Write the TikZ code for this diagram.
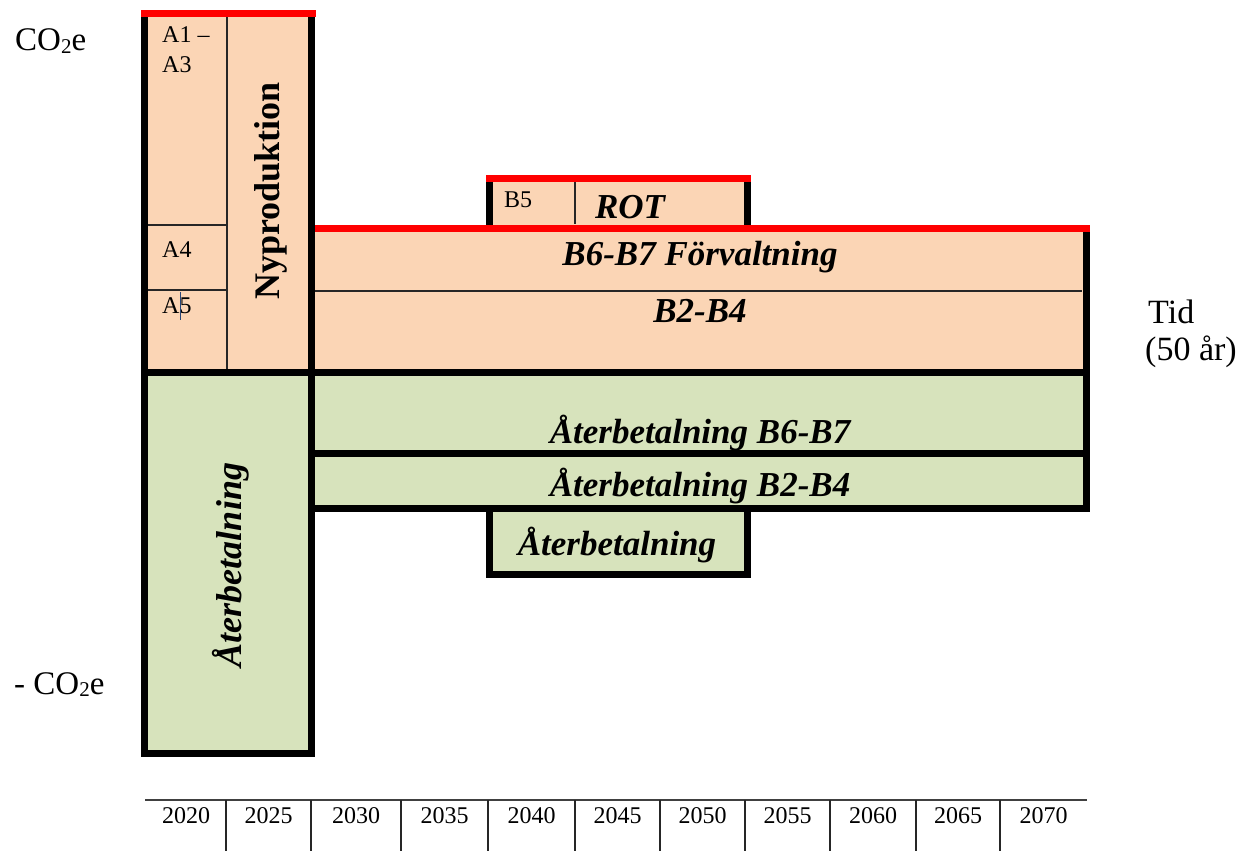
\documentclass[tikz,border=0pt]{standalone}
\usepackage{fontspec}
\setmainfont{Liberation Serif}
\definecolor{peach}{RGB}{251,213,181}
\definecolor{sage}{RGB}{215,227,188}
\definecolor{redline}{RGB}{255,0,0}
\definecolor{cursorblue}{RGB}{40,70,120}
\begin{document}
\begin{tikzpicture}[x=1pt,y=-1pt,
  heavy/.style={line width=7pt,black,line cap=butt},
  redtop/.style={line width=7pt,redline,line cap=butt},
  thinl/.style={line width=1.2pt,black!85},
  smalllbl/.style={font=\fontsize{24}{24}\selectfont,inner sep=0pt,anchor=base west},
  biglbl/.style={font=\fontsize{35}{35}\selectfont\bfseries\itshape,inner sep=0pt,anchor=base},
  axislbl/.style={font=\fontsize{34}{34}\selectfont,inner sep=0pt,anchor=base west},
  co2lbl/.style={font=\fontsize{33}{33}\selectfont,inner sep=0pt,anchor=base west},
  yearlbl/.style={font=\fontsize{24}{24}\selectfont,inner sep=0pt,anchor=base}]
\useasboundingbox (0,0) rectangle (1241,851);
% fills
\fill[peach] (144.5,13.5) rectangle (311.5,372.5);
\fill[sage] (144.5,372.5) rectangle (311.5,753.5);
\fill[peach] (311.5,228) rectangle (1086,372.5);
\fill[peach] (489.5,178) rectangle (747,228);
\fill[sage] (311.5,372.5) rectangle (1086,508.5);
\fill[sage] (489.5,508.5) rectangle (747,574.5);
% thin separators
\draw[thinl] (227,17) -- (227,369);
\draw[thinl] (148,225) -- (227,225);
\draw[thinl] (148,290) -- (227,290);
\draw[thinl] (315,291) -- (1082,291);
\draw[thinl] (575,182) -- (575,224);
\draw[line width=1pt,cursorblue] (180,292) -- (180,320);
% heavy black outlines
\draw[heavy] (144.5,13.5) -- (144.5,757);
\draw[heavy] (311.5,13.5) -- (311.5,757);
\draw[heavy] (141,753.5) -- (315,753.5);
\draw[heavy] (141,372.5) -- (1090,372.5);
\draw[heavy] (1086,228) -- (1086,512);
\draw[heavy] (311.5,453.5) -- (1090,453.5);
\draw[heavy] (311.5,508.5) -- (1090,508.5);
\draw[heavy] (489.5,178) -- (489.5,228);
\draw[heavy] (747,178) -- (747,228);
\draw[heavy,line join=miter] (489.5,508.5) -- (489.5,574.5) -- (747,574.5) -- (747,508.5);
% red tops
\draw[redtop] (141,13.5) -- (316,13.5);
\draw[redtop] (486,178) -- (751,178);
\draw[redtop] (315,228) -- (1090,228);
% time axis
\draw[line width=2pt,black!75] (145,800) -- (1087,800);
\foreach \t in {226,311,401,488,575,660,745,830,916,1000}
  \draw[line width=1.3pt,black!85] (\t,800) -- (\t,851);
\node[yearlbl] (y2020) at (186,823) {2020};
\node[yearlbl] (y2025) at (268.5,823) {2025};
\node[yearlbl] (y2030) at (356,823) {2030};
\node[yearlbl] (y2035) at (444.5,823) {2035};
\node[yearlbl] (y2040) at (531.5,823) {2040};
\node[yearlbl] (y2045) at (617.5,823) {2045};
\node[yearlbl] (y2050) at (702.5,823) {2050};
\node[yearlbl] (y2055) at (787.5,823) {2055};
\node[yearlbl] (y2060) at (873,823) {2060};
\node[yearlbl] (y2065) at (958,823) {2065};
\node[yearlbl] (y2070) at (1043.5,823) {2070};
% axis labels
\node[co2lbl] (co2) at (15,51) {CO{\fontsize{21}{21}\selectfont\raisebox{-2pt}{2}}e};
\node[co2lbl] (negco2) at (14,694) {- CO{\fontsize{21}{21}\selectfont\raisebox{-2pt}{2}}e};
\node[axislbl] (tid) at (1148,323) {Tid};
\node[axislbl] (tid2) at (1145,360) {(50 år)};
% small labels
\node[smalllbl] (a1) at (162,43) {A1 –};
\node[smalllbl] (a3) at (162,72) {A3};
\node[smalllbl] (a4) at (162,257) {A4};
\node[smalllbl] (a5) at (162,313) {A5};
\node[smalllbl] (b5) at (504,207) {B5};
% big labels
\node[font=\fontsize{36}{36}\selectfont\bfseries,inner sep=0pt,rotate=90] (nyprod) at (271,191) {Nyproduktion};
\node[font=\fontsize{36}{36}\selectfont\bfseries\itshape,inner sep=0pt,rotate=90] (aterv) at (231,565) {Återbetalning};
\node[biglbl] (rot) at (630,218) {ROT};
\node[biglbl] (forv) at (700,265) {B6-B7 Förvaltning};
\node[biglbl] (b2b4) at (700,322) {B2-B4};
\node[biglbl] (at67) at (700,443) {Återbetalning B6-B7};
\node[biglbl] (at24) at (700,496) {Återbetalning B2-B4};
\node[biglbl] (atsm) at (617,555) {Återbetalning};
\end{tikzpicture}
\end{document}
